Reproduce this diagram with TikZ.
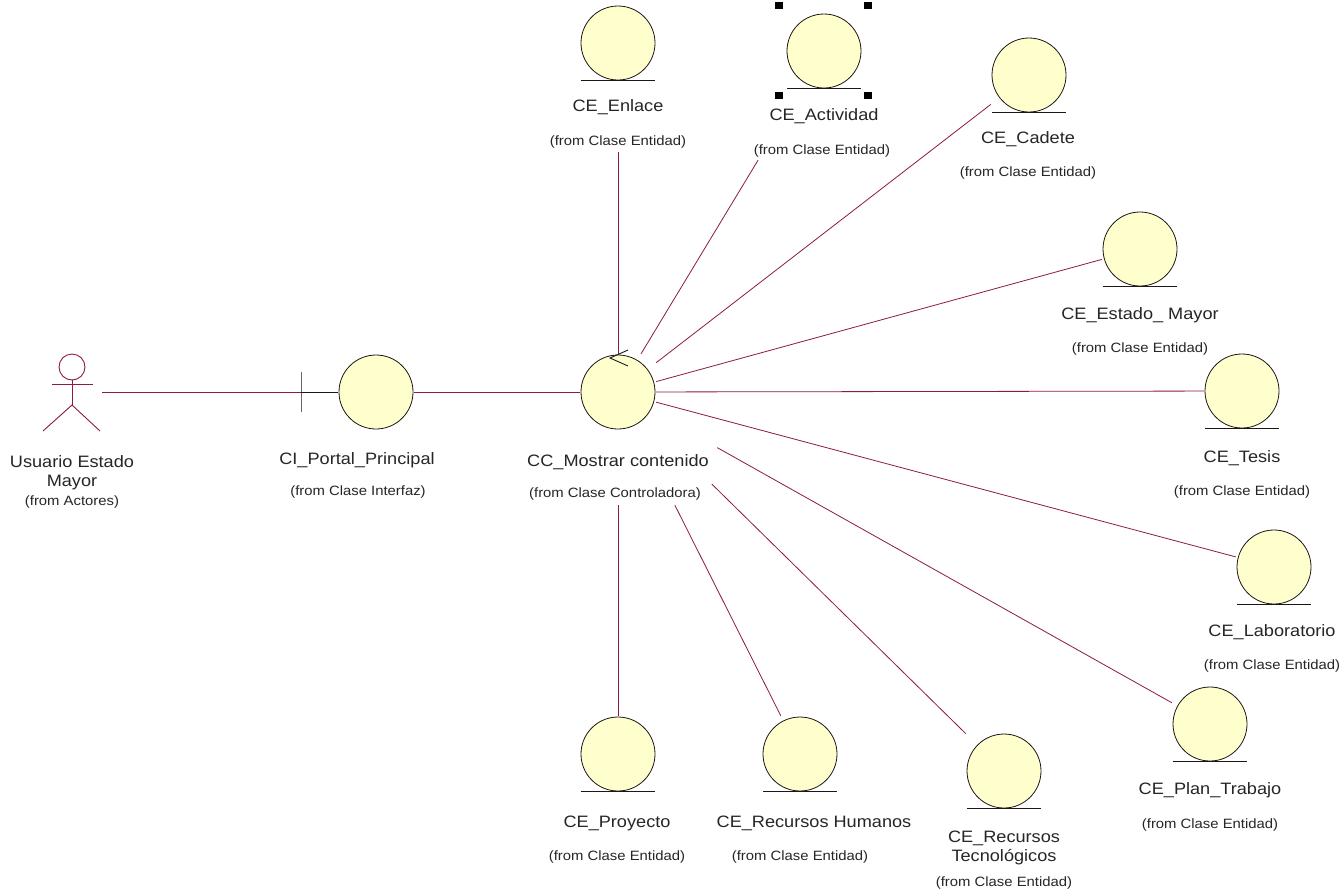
\documentclass[tikz,border=0pt]{standalone}
\usepackage{fontspec}
\setmainfont{Liberation Sans}[FakeStretch=1.1]
\usetikzlibrary{calc}
\definecolor{iconfill}{RGB}{255,255,206}
\definecolor{iconline}{RGB}{30,22,22}
\definecolor{assoc}{RGB}{140,25,70}
\tikzset{
  iconbox/.style={rectangle, minimum size=76pt, inner sep=0pt},
  bodyshape/.style={fill=iconfill, draw=iconline, line width=0.8pt},
  groundline/.style={draw=iconline, line width=0.9pt},
  conn/.style={draw=assoc, line width=0.8pt},
  actorline/.style={draw=assoc, line width=0.9pt},
  nametext/.style={font=\fontsize{16.5}{19}\selectfont, text=black!85, inner sep=0pt, align=center},
  fromtext/.style={font=\fontsize{13.5}{15}\selectfont, text=black!85, inner sep=0pt},
  handle/.style={fill=black, minimum width=8pt, minimum height=7pt, inner sep=0pt}
}
\begin{document}
\begin{tikzpicture}[x=1pt,y=-1pt]
\useasboundingbox (0,0) rectangle (1341,892);
\fill[white] (0,0) rectangle (1341,892);

% actor, boundary and control
\node[rectangle, minimum width=60pt, minimum height=80pt, inner sep=0pt] (actor) at (72,392) {};
\node[rectangle, minimum width=0pt, minimum height=40pt, inner sep=0pt, draw=iconline, line width=0.9pt] (cibar) at (301,392) {};
\node[iconbox] (ci) at (376,392) {};
\node[iconbox] (cc) at (618,392) {};

% entity classes
\node[iconbox] (enlace)    at (618,43)  {};
\node[iconbox] (actividad) at (824,51)  {};
\node[iconbox] (cadete)    at (1029,75) {};
\node[iconbox] (estado)    at (1140,249) {};
\node[iconbox] (tesis)     at (1242,391) {};
\node[iconbox] (lab)       at (1274,567) {};
\node[iconbox] (plan)      at (1210,724) {};
\node[iconbox] (rectec)    at (1004,771) {};
\node[iconbox] (rechum)    at (800,754) {};
\node[iconbox] (proyecto)  at (618,754) {};

% associations
\draw[actorline] (actor) -- (cibar);
\draw[groundline] (cibar) -- (ci);
\draw[conn] (ci) -- (cc);
\draw[conn, shorten >=71pt] (cc) -- (enlace);
\draw[conn, shorten >=83pt] (cc) -- (actividad);
\draw[conn] (cc) -- (cadete);
\draw[conn] (cc) -- (estado);
\draw[conn] (cc) -- (tesis);
\draw[conn] (cc) -- (lab);
\draw[conn, shorten <=70pt] (cc) -- (plan);
\draw[conn, shorten <=78pt] (cc) -- (rectec);
\draw[conn, shorten <=84pt] (cc) -- (rechum);
\draw[conn, shorten <=75pt] (cc) -- (proyecto);

% circles
\foreach \n in {ci,cc,enlace,actividad,cadete,estado,tesis,lab,plan,rectec,rechum,proyecto}
  \draw[bodyshape] (\n.center) circle (37);
% entity ground lines
\foreach \n in {enlace,actividad,cadete,estado,tesis,lab,plan,rectec,rechum,proyecto}
  \draw[groundline] ($(\n.center)+(-37,37)$) -- ($(\n.center)+(37,37)$);
% control arrow
\draw[iconline, line width=0.9pt] ($(cc.center)+(10,-42)$) -- ($(cc.center)+(-8,-34)$) -- ($(cc.center)+(10,-26)$);

% stick figure
\draw[actorline] (72,367) circle (13);
\draw[actorline] (52,384) -- (93,384);
\draw[actorline] (72,380) -- (72,405);
\draw[actorline] (43,431) -- (72,405) -- (100,431);

% selection handles
\foreach \dx/\dy in {-45/-46, 44/-46, -45/44, 44/44}
  \node[handle] at ($(actividad.center)+(\dx,\dy)$) {};

% labels
\node[nametext] (actorN) at (72,473) {Usuario Estado\\Mayor};
\node[fromtext] (actorF) at (72,502) {(from Actores)};
\node[nametext] (ciN) at (357,460) {CI\_Portal\_Principal};
\node[fromtext] (ciF) at (358,492) {(from Clase Interfaz)};
\node[nametext] (ccN) at (618,462) {CC\_Mostrar contenido};
\node[fromtext] (ccF) at (615,494) {(from Clase Controladora)};
\node[nametext] (enlaceN) at (618,107) {CE\_Enlace};
\node[fromtext] (enlaceF) at (618,142) {(from Clase Entidad)};
\node[nametext] (actividadN) at (824,116) {CE\_Actividad};
\node[fromtext] (actividadF) at (822,151) {(from Clase Entidad)};
\node[nametext] (cadeteN) at (1028,139) {CE\_Cadete};
\node[fromtext] (cadeteF) at (1028,173) {(from Clase Entidad)};
\node[nametext] (estadoN) at (1140,315) {CE\_Estado\_ Mayor};
\node[fromtext] (estadoF) at (1140,349) {(from Clase Entidad)};
\node[nametext] (tesisN) at (1242,458) {CE\_Tesis};
\node[fromtext] (tesisF) at (1242,492) {(from Clase Entidad)};
\node[nametext] (labN) at (1272,632) {CE\_Laboratorio};
\node[fromtext] (labF) at (1272,666) {(from Clase Entidad)};
\node[nametext] (planN) at (1210,790) {CE\_Plan\_Trabajo};
\node[fromtext] (planF) at (1210,825) {(from Clase Entidad)};
\node[nametext] (rectecN) at (1004,848) {CE\_Recursos\\Tecnológicos};
\node[fromtext] (rectecF) at (1004,883) {(from Clase Entidad)};
\node[nametext] (rechumN) at (814,823) {CE\_Recursos Humanos};
\node[fromtext] (rechumF) at (800,857) {(from Clase Entidad)};
\node[nametext] (proyectoN) at (617,823) {CE\_Proyecto};
\node[fromtext] (proyectoF) at (617,857) {(from Clase Entidad)};
\end{tikzpicture}
\end{document}
